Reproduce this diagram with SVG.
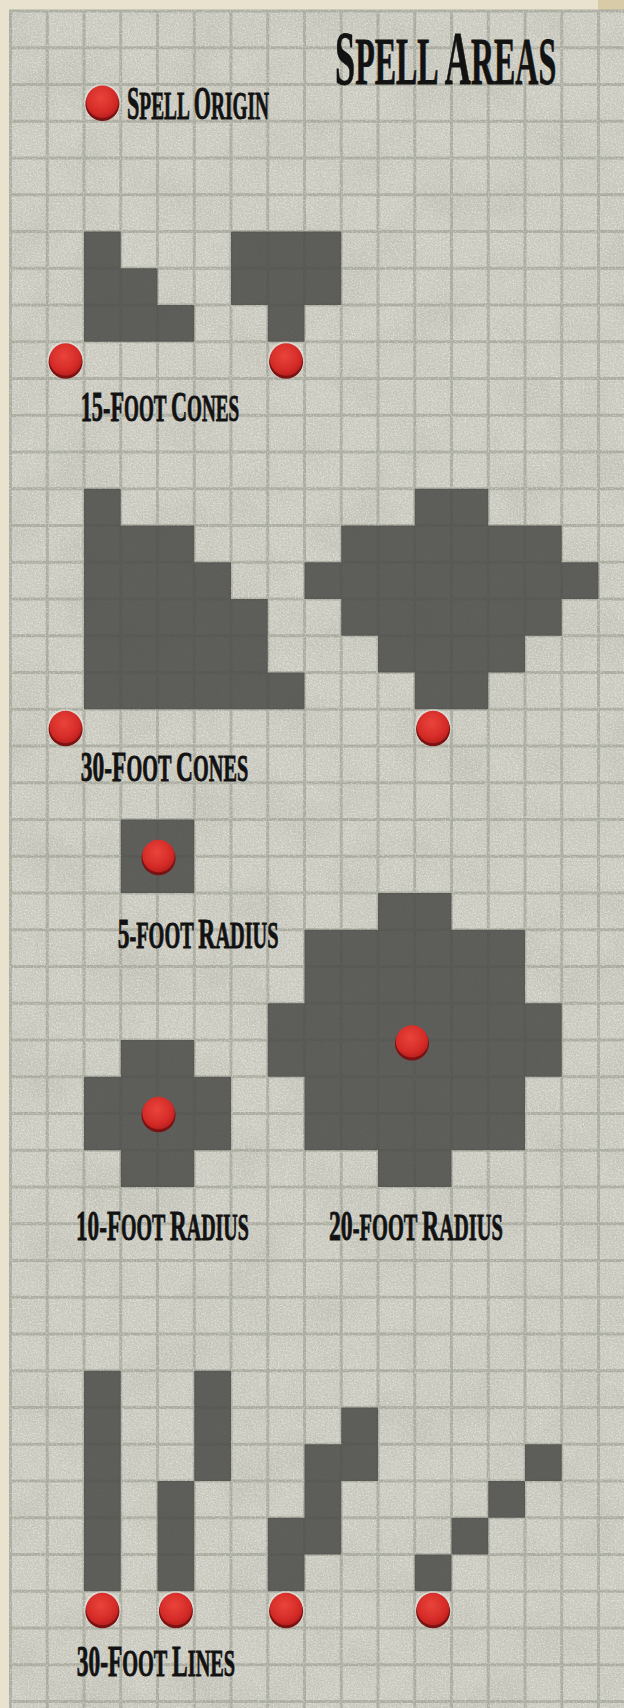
<svg xmlns="http://www.w3.org/2000/svg" width="624" height="1708" viewBox="0 0 624 1708">
<defs>
<style>
.area{fill:#4b4a48;fill-opacity:.86}
.t{font-family:"Liberation Serif","DejaVu Serif",serif;font-weight:bold;fill:#121212;stroke:#121212;stroke-width:.9}
.s{text-transform:uppercase}
.dotsh{fill:#7a1212}
.dot{fill:url(#red)}
.halo{fill:#eef2ee;opacity:.45}
</style>
<radialGradient id="red" cx="45%" cy="38%" r="65%">
<stop offset="0" stop-color="#e9443b"/>
<stop offset=".7" stop-color="#d52b27"/>
<stop offset="1" stop-color="#b51d1d"/>
</radialGradient>
<filter id="mottle" x="0" y="0" width="1" height="1">
<feTurbulence type="fractalNoise" baseFrequency="0.018" numOctaves="3" seed="11"/>
<feColorMatrix type="matrix" values="0 0 0 0 0.45  0 0 0 0 0.46  0 0 0 0 0.40  2 0 0 0 -0.8"/>
</filter>
<filter id="grainD" x="0" y="0" width="1" height="1">
<feTurbulence type="fractalNoise" baseFrequency="0.75" numOctaves="3" seed="7"/>
<feColorMatrix type="matrix" values="0 0 0 0 0.36  0 0 0 0 0.36  0 0 0 0 0.33  2.6 0 0 0 -1.2"/>
</filter>
<filter id="grainL" x="0" y="0" width="1" height="1">
<feTurbulence type="fractalNoise" baseFrequency="0.6" numOctaves="3" seed="23"/>
<feColorMatrix type="matrix" values="0 0 0 0 1  0 0 0 0 1  0 0 0 0 0.97  -2.6 0 0 0 1.4"/>
</filter>
<filter id="soft" x="-1%" y="-1%" width="102%" height="102%">
<feGaussianBlur stdDeviation="0.6"/>
</filter>
</defs>

<g id="background">
<rect width="624" height="1708" fill="#e9e2cf"/>
<rect x="598" y="0" width="26" height="10" fill="#cdbd8e" opacity=".6"/>
<rect x="9" y="10" width="615" height="1698" fill="#cfcec4"/>
<rect x="9" y="10" width="615" height="1698" filter="url(#mottle)" opacity=".35"/>
</g>

<g id="grid" stroke="#a6a89b" stroke-width="3" fill="none" opacity=".85" filter="url(#soft)">
<path d="M10.5 10V1708M47.25 10V1708M84 10V1708M120.75 10V1708M157.5 10V1708M194.25 10V1708M231 10V1708M267.75 10V1708M304.5 10V1708M341.25 10V1708M378 10V1708M414.75 10V1708M451.5 10V1708M488.25 10V1708M525 10V1708M561.75 10V1708M598.5 10V1708"/>
<path d="M9 11H624M9 47.75H624M9 84.5H624M9 121.25H624M9 158H624M9 194.75H624M9 231.5H624M9 268.25H624M9 305H624M9 341.75H624M9 378.5H624M9 415.25H624M9 452H624M9 488.75H624M9 525.5H624M9 562.25H624M9 599H624M9 635.75H624M9 672.5H624M9 709.25H624M9 746H624M9 782.75H624M9 819.5H624M9 856.25H624M9 893H624M9 929.75H624M9 966.5H624M9 1003.25H624M9 1040H624M9 1076.75H624M9 1113.5H624M9 1150.25H624M9 1187H624M9 1223.75H624M9 1260.5H624M9 1297.25H624M9 1334H624M9 1370.75H624M9 1407.5H624M9 1444.25H624M9 1481H624M9 1517.75H624M9 1554.5H624M9 1591.25H624M9 1628H624M9 1664.75H624M9 1701.5H624"/>
</g>

<g id="texture">
<rect x="9" y="10" width="615" height="1698" filter="url(#grainD)" opacity=".4"/>
<rect x="9" y="10" width="615" height="1698" filter="url(#grainL)" opacity=".4"/>
</g>

<g id="areas">
<path id="cone15-left" class="area" d="M84 231.5H120.75V268.25H157.5V305H194.25V341.75H84Z"/>
<path id="cone15-right" class="area" d="M231 231.5H341.25V305H304.5V341.75H267.75V305H231Z"/>
<path id="cone30-left" class="area" d="M84 488.75H120.75V525.5H194.25V562.25H231V599H267.75V672.5H304.5V709.25H84Z"/>
<path id="cone30-right" class="area" d="M414.75 488.75H488.25V525.5H561.75V562.25H598.5V599H561.75V635.75H525V672.5H488.25V709.25H414.75V672.5H378V635.75H341.25V599H304.5V562.25H341.25V525.5H414.75Z"/>
<rect id="radius5" class="area" x="120.75" y="819.5" width="73.5" height="73.5"/>
<path id="radius10" class="area" d="M120.75 1040H194.25V1076.75H231V1150.25H194.25V1187H120.75V1150.25H84V1076.75H120.75Z"/>
<path id="radius20" class="area" d="M378 893H451.5V929.75H525V1003.25H561.75V1076.75H525V1150.25H451.5V1187H378V1150.25H304.5V1076.75H267.75V1003.25H304.5V929.75H378Z"/>
<rect id="line1" class="area" x="84" y="1370.75" width="36.75" height="220.5"/>
<path id="line2" class="area" d="M194.25 1370.75H231V1481H194.25V1591.25H157.5V1481H194.25Z"/>
<path id="line3" class="area" d="M341.25 1407.5H378V1481H341.25V1554.5H304.5V1591.25H267.75V1517.75H304.5V1444.25H341.25Z"/>
<g id="line4" class="area">
<rect x="414.75" y="1554.5" width="36.75" height="36.75"/>
<rect x="451.5" y="1517.75" width="36.75" height="36.75"/>
<rect x="488.25" y="1481" width="36.75" height="36.75"/>
<rect x="525" y="1444.25" width="36.75" height="36.75"/>
</g>
</g>

<g id="origins">
<g id="dot-legend"><circle class="halo" cx="102.4" cy="102.4" r="18.6"/><circle class="dotsh" cx="102.4" cy="104" r="17"/><circle class="dot" cx="102.4" cy="101.8" r="16.2"/></g>
<g id="dot-cone15-left"><circle class="halo" cx="65.6" cy="360.1" r="18.6"/><circle class="dotsh" cx="65.6" cy="361.7" r="17"/><circle class="dot" cx="65.6" cy="359.5" r="16.2"/></g>
<g id="dot-cone15-right"><circle class="halo" cx="286.1" cy="360.1" r="18.6"/><circle class="dotsh" cx="286.1" cy="361.7" r="17"/><circle class="dot" cx="286.1" cy="359.5" r="16.2"/></g>
<g id="dot-cone30-left"><circle class="halo" cx="65.6" cy="727.6" r="18.6"/><circle class="dotsh" cx="65.6" cy="729.2" r="17"/><circle class="dot" cx="65.6" cy="727" r="16.2"/></g>
<g id="dot-cone30-right"><circle class="halo" cx="433.1" cy="727.6" r="18.6"/><circle class="dotsh" cx="433.1" cy="729.2" r="17"/><circle class="dot" cx="433.1" cy="727" r="16.2"/></g>
<g id="dot-radius5"><circle class="dotsh" cx="158.5" cy="858.2" r="17"/><circle class="dot" cx="158.5" cy="856" r="16.2"/></g>
<g id="dot-radius10"><circle class="dotsh" cx="158.5" cy="1115.2" r="17"/><circle class="dot" cx="158.5" cy="1113" r="16.2"/></g>
<g id="dot-radius20"><circle class="dotsh" cx="412" cy="1043.6" r="17"/><circle class="dot" cx="412" cy="1041.4" r="16.2"/></g>
<g id="dot-line1"><circle class="halo" cx="102.4" cy="1609.6" r="18.6"/><circle class="dotsh" cx="102.4" cy="1611.2" r="17"/><circle class="dot" cx="102.4" cy="1609" r="16.2"/></g>
<g id="dot-line2"><circle class="halo" cx="175.9" cy="1609.6" r="18.6"/><circle class="dotsh" cx="175.9" cy="1611.2" r="17"/><circle class="dot" cx="175.9" cy="1609" r="16.2"/></g>
<g id="dot-line3"><circle class="halo" cx="286.1" cy="1609.6" r="18.6"/><circle class="dotsh" cx="286.1" cy="1611.2" r="17"/><circle class="dot" cx="286.1" cy="1609" r="16.2"/></g>
<g id="dot-line4"><circle class="halo" cx="433.1" cy="1609.6" r="18.6"/><circle class="dotsh" cx="433.1" cy="1611.2" r="17"/><circle class="dot" cx="433.1" cy="1609" r="16.2"/></g>
</g>

<g id="labels">
<text id="title" class="t" transform="translate(335 84) scale(0.47 1)" font-size="77"><tspan>S</tspan><tspan class="s" font-size="68">pell </tspan><tspan>A</tspan><tspan class="s" font-size="68">reas</tspan></text>
<text id="label-origin" class="t" transform="translate(127 118.5) scale(0.472 1)" font-size="47"><tspan>S</tspan><tspan class="s" font-size="41">pell </tspan><tspan>O</tspan><tspan class="s" font-size="41">rigin</tspan></text>
<text id="label-cone15" class="t" transform="translate(80.7 420.5) scale(0.518 1)" font-size="43"><tspan>15-F</tspan><tspan class="s" font-size="37">oot </tspan><tspan>C</tspan><tspan class="s" font-size="37">ones</tspan></text>
<text id="label-cone30" class="t" transform="translate(80.7 781) scale(0.547 1)" font-size="43"><tspan>30-F</tspan><tspan class="s" font-size="37">oot </tspan><tspan>C</tspan><tspan class="s" font-size="37">ones</tspan></text>
<text id="label-radius5" class="t" transform="translate(117.7 948) scale(0.548 1)" font-size="43"><tspan>5</tspan><tspan class="s" font-size="37">-foot </tspan><tspan>R</tspan><tspan class="s" font-size="37">adius</tspan></text>
<text id="label-radius10" class="t" transform="translate(76 1240) scale(0.539 1)" font-size="43"><tspan>10-F</tspan><tspan class="s" font-size="37">oot </tspan><tspan>R</tspan><tspan class="s" font-size="37">adius</tspan></text>
<text id="label-radius20" class="t" transform="translate(329 1240) scale(0.552 1)" font-size="43"><tspan>20</tspan><tspan class="s" font-size="37">-foot </tspan><tspan>R</tspan><tspan class="s" font-size="37">adius</tspan></text>
<text id="label-lines" class="t" transform="translate(76.7 1676) scale(0.521 1)" font-size="45"><tspan>30-F</tspan><tspan class="s" font-size="39">oot </tspan><tspan>L</tspan><tspan class="s" font-size="39">ines</tspan></text>
</g>
</svg>
